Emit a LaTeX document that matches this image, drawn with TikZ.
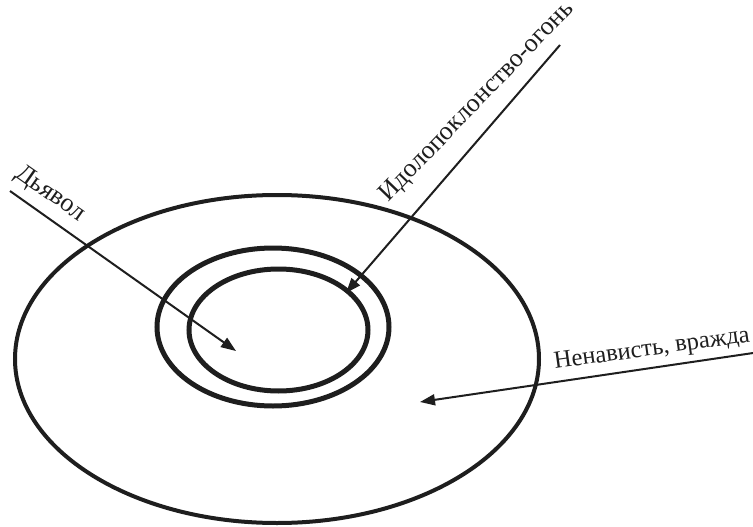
\documentclass[tikz,border=0pt]{standalone}
\usepackage{fontspec}
\setmainfont{Liberation Serif}
\usetikzlibrary{shapes.geometric,arrows.meta}
\definecolor{ink}{HTML}{1E1E1E}
\tikzset{
  ring/.style={draw=ink, ellipse, inner sep=0pt, outer sep=0pt},
  arr/.style={draw=ink, line width=2pt, -{Triangle[length=15pt,width=11pt]}},
  lbl/.style={inner sep=0pt, text=ink, font=\fontsize{26}{30}\selectfont}
}
\begin{document}
\begin{tikzpicture}[x=1pt,y=-1pt]
\useasboundingbox (0,0) rectangle (753,527);
\node[ring, line width=4pt, minimum width=524pt, minimum height=328pt] (outer) at (277,359) {};
\node[ring, line width=5pt, minimum width=232pt, minimum height=158pt] (middle) at (273,327) {};
\node[ring, line width=5pt, minimum width=179pt, minimum height=122pt] (inner) at (278.5,330) {};
\coordinate (dstart) at (10,191);
\coordinate (dtip) at (236,351);
\coordinate (istart) at (560,45);
\coordinate (itip) at (346,293);
\coordinate (nstart) at (760,352);
\coordinate (ntip) at (420,402);
\draw[arr] (dstart) -- (dtip);
\draw[arr] (istart) -- (itip);
\draw[arr] (nstart) -- (ntip);
\node[lbl, rotate=-35, anchor=base west] (devil) at (14,176) {Дьявол};
\node[lbl, rotate=46, anchor=base west] (idol) at (388,203) {Идолопоклонство-огонь};
\node[lbl, rotate=8, anchor=base west, font=\fontsize{24.5}{30}\selectfont] (hate) at (555,369) {Ненависть, вражда};
\end{tikzpicture}
\end{document}
